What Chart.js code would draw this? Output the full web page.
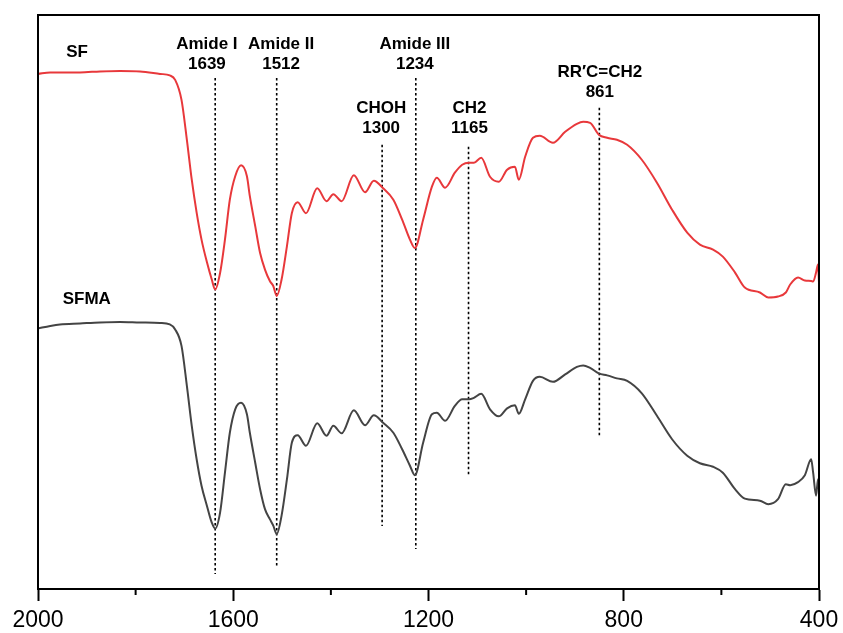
<!DOCTYPE html>
<html>
<head>
<meta charset="utf-8">
<title>FTIR SF / SFMA</title>
<script src="https://cdn.jsdelivr.net/npm/chart.js@4.4.1/dist/chart.umd.min.js"></script>
<style>
  html, body { margin: 0; padding: 0; background: #fff; }
  canvas { display: block; }
</style>
</head>
<body>
<canvas id="ftirChart" width="843" height="633"></canvas>
<script>
// Wavenumber (cm-1), shared by both spectra
const wavenumber = [
  2000, 1975, 1955, 1914, 1873, 1832, 1791, 1750, 1730, 1719, 1706, 1695, 1685, 1675, 1665, 1654,
  1644, 1637, 1627, 1617, 1607, 1596, 1584, 1572, 1566, 1555, 1545, 1535, 1525, 1518, 1511, 1501,
  1490, 1480, 1468, 1451, 1428, 1409, 1395, 1378, 1353, 1330, 1312, 1293, 1272, 1254, 1238, 1228,
  1211, 1193, 1183, 1166, 1146, 1131, 1117, 1107, 1092, 1074, 1056, 1039, 1023, 1015, 1002, 986,
  972, 945, 920, 896, 883, 869, 851, 834, 814, 793, 763, 732, 701, 670, 644, 617,
  597, 572, 552, 521, 504, 484, 468, 459, 443, 429, 416, 412, 406, 402, 400
];

// Transmittance (arbitrary units, curves offset)
const sfValues = [
  103.2, 103.5, 103.5, 103.5, 103.7, 103.8, 103.7, 103.2, 102.9, 102, 98, 90, 82, 75.4, 70, 65.5,
  62, 60, 63.3, 70, 78, 82.7, 84.9, 82.7, 78.7, 72.7, 67.3, 64, 61.7, 60.7, 58.7, 62,
  68.7, 75.3, 77.5, 75.3, 80.3, 77.7, 79.1, 77.7, 82.9, 79.5, 81.8, 80.3, 78, 74, 70, 68.3,
  74, 80.6, 82.4, 80.4, 83.4, 85, 85.4, 85.4, 86.4, 82.6, 81.6, 84, 84.6, 82, 86.6, 90.4,
  90.8, 89.4, 91.6, 93.2, 93.6, 93.4, 91, 90.4, 90, 89, 86, 81.4, 76, 71.4, 69, 68,
  66.6, 63.4, 60.4, 59.4, 58.4, 58.6, 59.4, 61, 62.4, 61.8, 61.7, 61.6, 63.4, 65, 61.4
];

const sfmaValues = [
  52.2, 52.7, 53, 53.2, 53.4, 53.5, 53.4, 53.3, 53, 52, 48.7, 40.7, 32.7, 26, 20.7, 16.7,
  13.3, 12.1, 15.3, 23.3, 31.3, 36, 37.3, 35, 31.3, 25.3, 20, 16, 14, 12.7, 11, 14.7,
  22, 29.3, 30.8, 28.7, 33.2, 30.7, 32.7, 31.2, 35.8, 32.8, 34.8, 33.3, 31.3, 28, 24.7, 22.8,
  29.3, 35, 35.3, 33.7, 36.7, 38, 38, 38.3, 39.1, 36, 34.6, 36.2, 36.8, 35.1, 38, 41.7,
  42.5, 41.5, 43, 44.5, 44.8, 44.3, 43.2, 42.8, 42.2, 41.7, 39.2, 34.7, 30, 26.7, 25.2, 24.5,
  23.3, 20, 18.1, 17.7, 17, 18, 21, 20.8, 21.4, 22.8, 26, 23.3, 18.7, 22, 20
];

// Band assignments
const bandNames = ['Amide I', 'Amide II', 'CHOH', 'Amide III', 'CH2', 'RR\u2032C=CH2'];
const bandLabels = ['1639', '1512', '1300', '1234', '1165', '861'];
const bandLineAt = [1637, 1511, 1295, 1226, 1118, 850];
const bandLineTop = [102.4, 102.4, 89, 102.4, 88.6, 96.4];
const bandLineBottom = [3, 4.4, 12.6, 8, 22.6, 30.6];
const bandTextAt = [1654, 1502, 1297, 1228, 1116, 849];
const bandTextY = [109.2, 109.2, 96.4, 109.2, 96.4, 103.6];

const seriesNames = ['SF', 'SFMA'];
const seriesNameAt = [[1920, 107.6], [1900, 58]];

const xTicks = [2000, 1600, 1200, 800, 400];

const toPoints = (xs, ys) => xs.map((x, i) => ({ x: x, y: ys[i] }));

const datasets = [
  {
    label: 'SF',
    data: toPoints(wavenumber, sfValues),
    borderColor: '#e8383b',
    borderWidth: 2,
    pointRadius: 0,
    cubicInterpolationMode: 'monotone'
  },
  {
    label: 'SFMA',
    data: toPoints(wavenumber, sfmaValues),
    borderColor: '#444444',
    borderWidth: 2,
    pointRadius: 0,
    cubicInterpolationMode: 'monotone'
  }
];

// dotted marker lines
bandLineAt.forEach((wn, i) => {
  datasets.push({
    label: bandNames[i],
    data: [{ x: wn, y: bandLineTop[i] }, { x: wn, y: bandLineBottom[i] }],
    borderColor: '#000',
    borderWidth: 1.6,
    borderDash: [2.5, 2.5],
    pointRadius: 0
  });
});

// frame, minor ticks and text labels
const decorPlugin = {
  id: 'decor',
  afterDraw(chart) {
    const { ctx, chartArea, scales } = chart;
    const xs = scales.x, ys = scales.y;
    ctx.save();

    ctx.strokeStyle = '#000';
    ctx.lineWidth = 2;
    ctx.strokeRect(chartArea.left, chartArea.top, chartArea.right - chartArea.left, chartArea.bottom - chartArea.top);

    // minor ticks between labelled ones
    for (let i = 0; i < xTicks.length - 1; i++) {
      const px = xs.getPixelForValue((xTicks[i] + xTicks[i + 1]) / 2);
      ctx.beginPath();
      ctx.moveTo(px, chartArea.bottom);
      ctx.lineTo(px, chartArea.bottom + 6);
      ctx.stroke();
    }

    ctx.fillStyle = '#000';
    ctx.font = 'bold 17px "Liberation Sans", Arial, sans-serif';
    ctx.textAlign = 'center';
    ctx.textBaseline = 'middle';
    bandNames.forEach((name, i) => {
      const px = xs.getPixelForValue(bandTextAt[i]);
      const py = ys.getPixelForValue(bandTextY[i]);
      ctx.fillText(name, px, py);
      ctx.fillText(bandLabels[i], px, py + 20);
    });

    seriesNames.forEach((name, i) => {
      ctx.fillText(name, xs.getPixelForValue(seriesNameAt[i][0]), ys.getPixelForValue(seriesNameAt[i][1]));
    });
    ctx.restore();
  }
};

const ftirChart = new Chart(document.getElementById('ftirChart').getContext('2d'), {
  type: 'line',
  data: { datasets: datasets },
  options: {
    responsive: false,
    animation: false,
    layout: { padding: { left: 38, right: 24, top: 15, bottom: 0 } },
    plugins: {
      legend: { display: false },
      tooltip: { enabled: false }
    },
    scales: {
      x: {
        type: 'linear',
        reverse: true,
        min: 400,
        max: 2000,
        afterBuildTicks: (axis) => { axis.ticks = xTicks.map(v => ({ value: v })); },
        afterFit: (axis) => {
          axis.height = 44;
          axis.paddingLeft = 0;
          axis.paddingRight = 0;
        },
        ticks: {
          color: '#000',
          padding: 8,
          maxRotation: 0,
          callback: (value) => String(value),
          font: { family: '"Liberation Sans", Arial, sans-serif', size: 23, lineHeight: 1 }
        },
        grid: {
          drawOnChartArea: false,
          drawTicks: true,
          tickLength: 12,
          tickWidth: 2,
          tickColor: '#000'
        },
        border: { display: true, color: '#000', width: 2 }
      },
      y: {
        display: false,
        min: 0,
        max: 115
      }
    }
  },
  plugins: [decorPlugin]
});
</script>
</body>
</html>
